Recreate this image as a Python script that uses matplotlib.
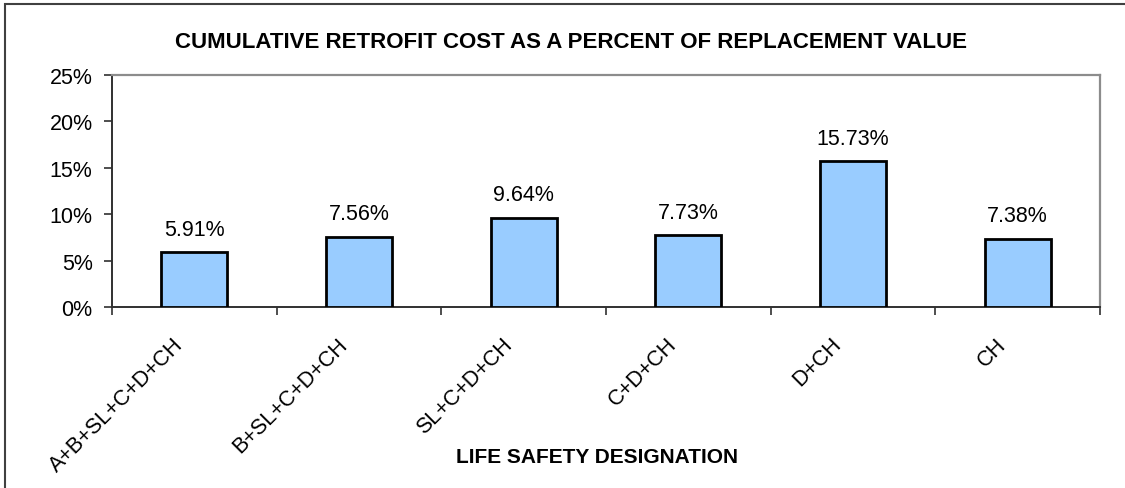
import matplotlib
matplotlib.use("Agg")
import matplotlib.pyplot as plt
import matplotlib.transforms as mtransforms
from matplotlib.patches import Rectangle
from matplotlib.ticker import FixedLocator, FuncFormatter

categories = ["A+B+SL+C+D+CH", "B+SL+C+D+CH", "SL+C+D+CH", "C+D+CH", "D+CH", "CH"]
values = [5.91, 7.56, 9.64, 7.73, 15.73, 7.38]
y_ticks = [0, 5, 10, 15, 20, 25]

plt.rcParams["font.family"] = ["Liberation Sans", "DejaVu Sans"]

W, H = 1125, 489
fig = plt.figure(figsize=(W / 100, H / 100), dpi=100)
ax = fig.add_axes([112 / W, 1 - 308 / H, (1100 - 112) / W, (308 - 76) / H])

x = list(range(len(categories)))
ax.bar(x, values, width=0.4, color="#99CCFF", edgecolor="black", linewidth=2.0, zorder=3)

for xi, v in zip(x, values):
    ax.annotate(f"{v:.2f}%", (xi, v), xytext=(0, 9), textcoords="offset points",
                ha="center", va="bottom", fontsize=15.5)

ax.set_xlim(-0.5, len(categories) - 0.5)
ax.set_ylim(0, 25)
ax.set_yticks(y_ticks)
ax.yaxis.set_major_formatter(FuncFormatter(lambda v, p: f"{v:.0f}%"))
ax.tick_params(axis="y", labelsize=15.5, length=6, width=1.2, pad=8, color="#303030")

ax.set_xticks(x)
ax.set_xticklabels(categories, rotation=45, ha="right", fontsize=15.5)
ax.xaxis.set_minor_locator(FixedLocator([i - 0.5 for i in range(len(categories) + 1)]))
ax.tick_params(axis="x", which="major", length=0, pad=19)
ax.tick_params(axis="x", which="minor", length=6, width=1.2, color="#303030")
shift = mtransforms.ScaledTranslation(-7 / 100, 0, fig.dpi_scale_trans)
for lbl in ax.get_xticklabels():
    lbl.set_transform(lbl.get_transform() + shift)

for side in ("left", "bottom"):
    ax.spines[side].set_color("#303030")
    ax.spines[side].set_linewidth(1.4)
for side in ("top", "right"):
    ax.spines[side].set_color("#8c8c8c")
    ax.spines[side].set_linewidth(1.6)

fig.text(571 / W, 1 - 43 / H, "CUMULATIVE RETROFIT COST AS A PERCENT OF REPLACEMENT VALUE",
         ha="center", va="center", fontsize=16, fontweight="bold")
fig.text(597 / W, 1 - 458 / H, "LIFE SAFETY DESIGNATION",
         ha="center", va="center", fontsize=15, fontweight="bold")

fig.patches.append(Rectangle((5 / W, -0.1), 1.2, 1 - 5 / H + 0.1, transform=fig.transFigure,
                             fill=False, edgecolor="#404040", linewidth=1.5))

fig.savefig("out.png", dpi=100)
